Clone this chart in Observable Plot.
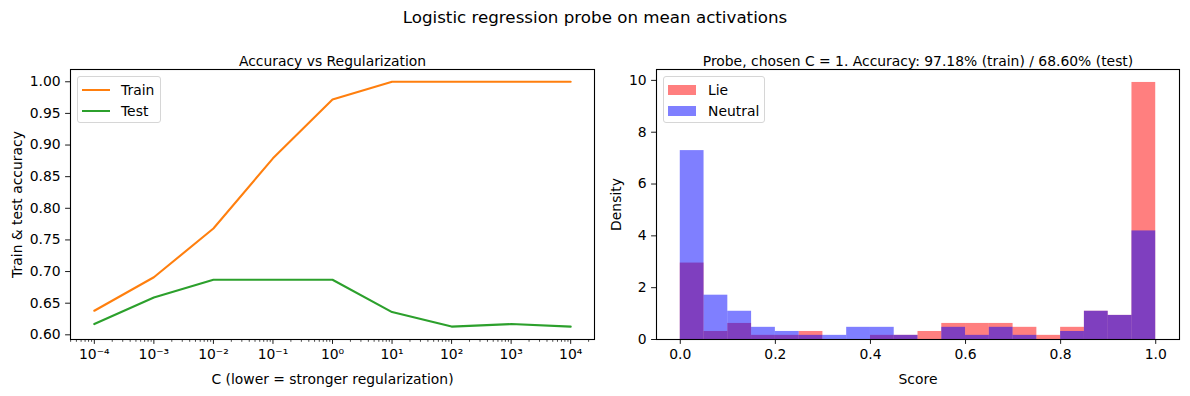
<!DOCTYPE html>
<html><head><meta charset="utf-8">
<script src="https://cdn.jsdelivr.net/npm/d3@7"></script>
<script src="https://cdn.jsdelivr.net/npm/@observablehq/plot@0.6"></script>
<style>
body{margin:0;background:#fff;}
#fig{position:relative;width:1190px;height:396px;font-family:"DejaVu Sans",sans-serif;overflow:hidden;background:#fff;}
.abs{position:absolute;}
.legend{position:absolute;border:1px solid #d6d6d6;border-radius:3px;background:rgba(255,255,255,0.8);font-size:13.9px;color:#000;box-sizing:border-box;}
.row{position:absolute;white-space:nowrap;}
</style></head><body><div id="fig"></div>
<script>
// ---- data ----
const cValues = [1e-4, 1e-3, 1e-2, 1e-1, 1, 1e1, 1e2, 1e3, 1e4];
const trainAcc = [0.638, 0.691, 0.768, 0.879, 0.972, 1.0, 1.0, 1.0, 1.0];
const testAcc = [0.617, 0.659, 0.687, 0.687, 0.687, 0.636, 0.613, 0.617, 0.613];
const accTicks = [0.60, 0.65, 0.70, 0.75, 0.80, 0.85, 0.90, 0.95, 1.00];

const binEdges = [0, 0.05, 0.10, 0.15, 0.20, 0.25, 0.30, 0.35, 0.40, 0.45, 0.50,
                  0.55, 0.60, 0.65, 0.70, 0.75, 0.80, 0.85, 0.90, 0.95, 1.00];
const lieDensity = [2.95, 0.31, 0.62, 0.16, 0.16, 0.31, 0, 0, 0.16, 0.16,
                    0.31, 0.62, 0.62, 0.62, 0.47, 0.16, 0.47, 1.09, 0.93, 9.92];
const neutralDensity = [7.29, 1.71, 1.09, 0.47, 0.31, 0.16, 0.16, 0.47, 0.47, 0.16,
                        0, 0.47, 0.16, 0.47, 0.16, 0, 0.31, 1.09, 0.93, 4.19];
const scoreTicks = [0, 0.2, 0.4, 0.6, 0.8, 1.0];
const densityTicks = [0, 2, 4, 6, 8, 10];

const suptitle = "Logistic regression probe on mean activations";
const leftTitle = "Accuracy vs Regularization";
const rightTitle = "Probe, chosen C = 1. Accuracy: 97.18% (train) / 68.60% (test)";

// ---- helpers ----
const FS = 13.9;
const sup = {"-":"⁻","0":"⁰","1":"¹","2":"²","3":"³","4":"⁴","5":"⁵","6":"⁶","7":"⁷","8":"⁸","9":"⁹"};
const powFmt = d => "10" + String(Math.round(Math.log10(d))).split("").map(ch => sup[ch]).join("");
const minorTicks = [];
for (let e = -5; e <= 4; e++) for (let m = 2; m <= 9; m++) {
  const v = m * 10 ** e;
  if (v >= 10 ** -4.4 && v <= 10 ** 4.4) minorTicks.push(v);
}
const style = {fontFamily: "DejaVu Sans", fontSize: FS + "px", color: "#000", background: "transparent", overflow: "visible"};

const fig = document.getElementById("fig");

const st = document.createElement("div");
st.className = "abs";
st.style.cssText = "left:0;width:1190px;top:7px;text-align:center;font-size:16.7px;line-height:20px;";
st.textContent = suptitle;
fig.appendChild(st);

// ---- left plot ----
const trainRows = cValues.map((c, i) => ({c, acc: trainAcc[i]}));
const testRows = cValues.map((c, i) => ({c, acc: testAcc[i]}));
const left = Plot.plot({
  width: 600, height: 396,
  marginLeft: 70, marginRight: 6, marginTop: 69, marginBottom: 57,
  style,
  x: {type: "log", domain: [10 ** -4.4, 10 ** 4.4]},
  y: {domain: [0.5926, 1.0194]},
  marks: [
    Plot.axisX(minorTicks, {tickSize: 2.8, tickFormat: () => "", strokeWidth: 0.7, stroke: "#000", label: null}),
    Plot.axisX(cValues, {tickSize: 4.9, tickPadding: 5, tickFormat: powFmt, strokeWidth: 0.9, stroke: "#000", label: null}),
    Plot.axisY(accTicks, {tickSize: 4.9, tickPadding: 4.9, tickFormat: d3.format(".2f"), strokeWidth: 0.9, stroke: "#000", label: null}),
    Plot.line(trainRows, {x: "c", y: "acc", stroke: "#ff7f0e", strokeWidth: 2.08}),
    Plot.line(testRows, {x: "c", y: "acc", stroke: "#2ca02c", strokeWidth: 2.08}),
    Plot.frame({stroke: "#000", strokeWidth: 1.1}),
    Plot.text([leftTitle], {frameAnchor: "top", dy: -13, fontSize: FS, fill: "#000"}),
    Plot.text(["C (lower = stronger regularization)"], {frameAnchor: "bottom", dy: 44, fontSize: FS, fill: "#000"}),
    Plot.text(["Train & test accuracy"], {frameAnchor: "left", textAnchor: "middle", dx: -53, rotate: -90, fontSize: FS, fill: "#000"})
  ]
});
left.style.position = "absolute"; left.style.left = "0px"; left.style.top = "0px";
fig.appendChild(left);

// ---- right plot ----
const bins = binEdges.slice(0, -1).map((x1, i) => ({x1, x2: binEdges[i + 1], lie: lieDensity[i], neutral: neutralDensity[i]}));
const right = Plot.plot({
  width: 590, height: 396,
  marginLeft: 56, marginRight: 11, marginTop: 69, marginBottom: 57,
  style,
  x: {domain: [-0.05, 1.05]},
  y: {domain: [0, 10.42]},
  marks: [
    Plot.rectY(bins, {x1: "x1", x2: "x2", y: "lie", fill: "#ff0000", fillOpacity: 0.5}),
    Plot.rectY(bins, {x1: "x1", x2: "x2", y: "neutral", fill: "#0000ff", fillOpacity: 0.5}),
    Plot.axisX(scoreTicks, {tickSize: 4.9, tickPadding: 5, tickFormat: d3.format(".1f"), strokeWidth: 0.9, stroke: "#000", label: null}),
    Plot.axisY(densityTicks, {tickSize: 4.9, tickPadding: 4.9, tickFormat: d3.format("d"), strokeWidth: 0.9, stroke: "#000", label: null}),
    Plot.frame({stroke: "#000", strokeWidth: 1.1}),
    Plot.text([rightTitle], {frameAnchor: "top", dy: -13, fontSize: FS, fill: "#000"}),
    Plot.text(["Score"], {frameAnchor: "bottom", dy: 44, fontSize: FS, fill: "#000"}),
    Plot.text(["Density"], {frameAnchor: "left", textAnchor: "middle", dx: -40, rotate: -90, fontSize: FS, fill: "#000"})
  ]
});
right.style.position = "absolute"; right.style.left = "600px"; right.style.top = "0px";
fig.appendChild(right);

// ---- legends (HTML overlays) ----
function legend(x, y, w, h, items) {
  const box = document.createElement("div");
  box.className = "legend";
  box.style.left = x + "px"; box.style.top = y + "px";
  box.style.width = w + "px"; box.style.height = h + "px";
  items.forEach((it, i) => {
    const r = document.createElement("div");
    r.className = "row";
    r.style.left = "4px"; r.style.top = (3 + i * 21) + "px";
    r.style.height = "18px"; r.style.lineHeight = "18px";
    const sw = it.line
      ? `<span style="display:inline-block;width:28px;height:2px;background:${it.color};vertical-align:middle;margin-right:11px"></span>`
      : `<span style="display:inline-block;width:28px;height:10px;background:${it.color};vertical-align:middle;margin-right:12px"></span>`;
    r.innerHTML = sw + `<span style="vertical-align:middle">${it.label}</span>`;
    box.appendChild(r);
  });
  fig.appendChild(box);
}
legend(77, 76, 84, 47, [{label: "Train", color: "#ff7f0e", line: true}, {label: "Test", color: "#2ca02c", line: true}]);
legend(663, 76, 102, 47, [{label: "Lie", color: "rgba(255,0,0,0.5)"}, {label: "Neutral", color: "rgba(0,0,255,0.5)"}]);
</script></body></html>
